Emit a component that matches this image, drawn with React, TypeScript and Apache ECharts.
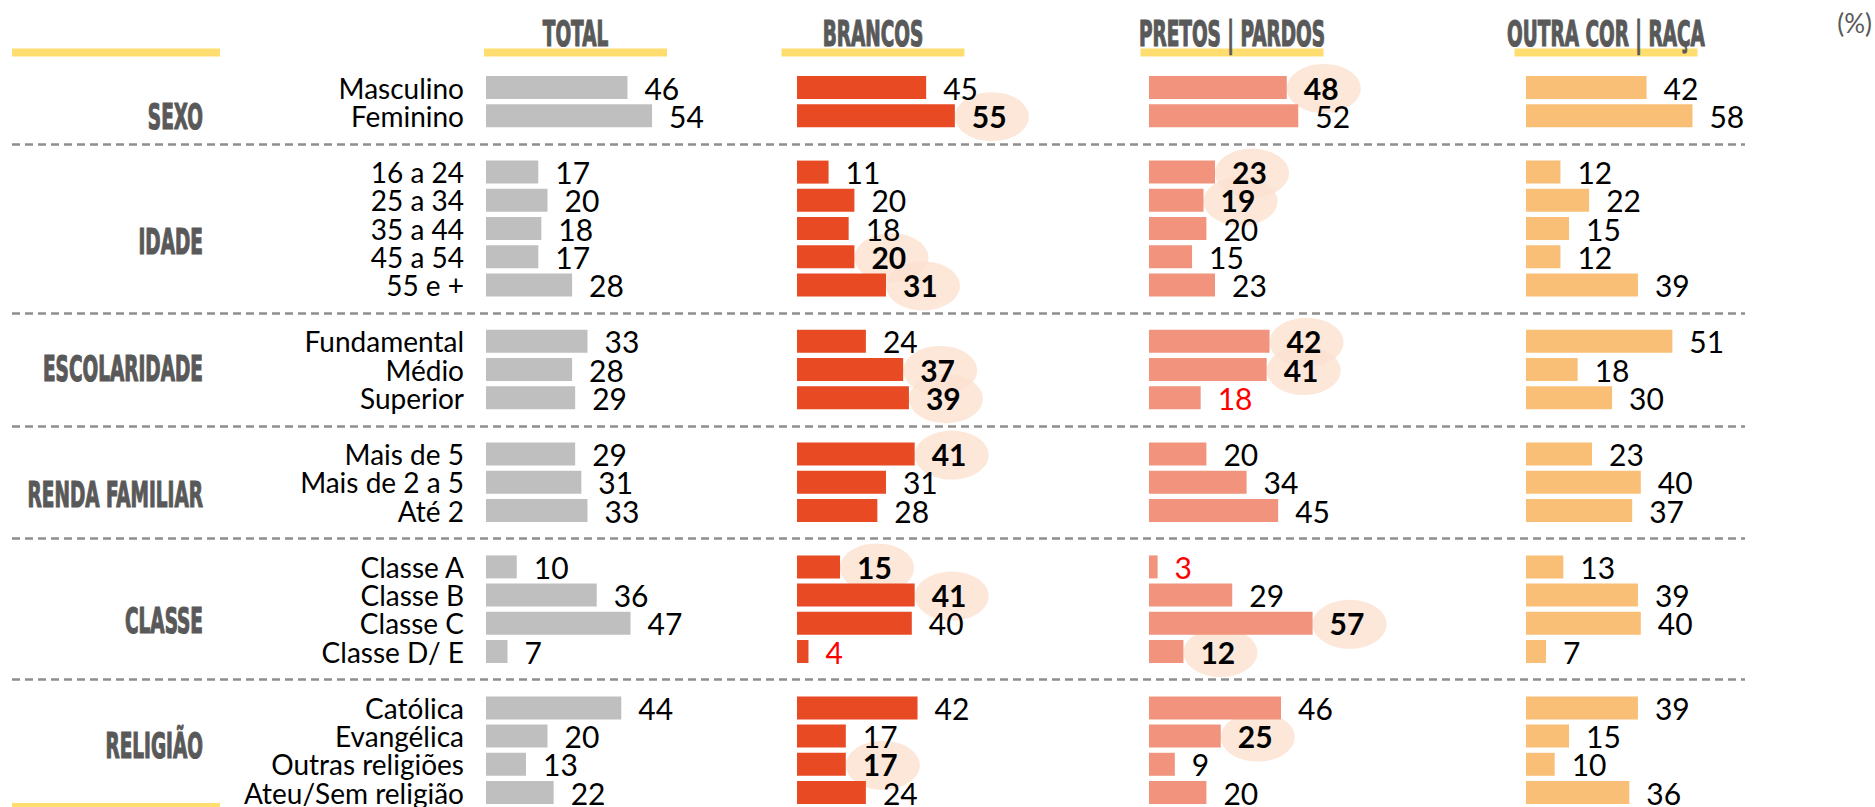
import { useEffect, useRef } from 'react';
import * as echarts from 'echarts';

// ---------- DATA ----------
const groupNames = ['SEXO', 'IDADE', 'ESCOLARIDADE', 'RENDA FAMILIAR', 'CLASSE', 'RELIGIÃO'];
const groupCategories = [
  ['Masculino', 'Feminino'],
  ['16 a 24', '25 a 34', '35 a 44', '45 a 54', '55 e +'],
  ['Fundamental', 'Médio', 'Superior'],
  ['Mais de 5', 'Mais de 2 a 5', 'Até 2'],
  ['Classe A', 'Classe B', 'Classe C', 'Classe D/ E'],
  ['Católica', 'Evangélica', 'Outras religiões', 'Ateu/Sem religião'],
];
const columnTitles = ['TOTAL', 'BRANCOS', 'PRETOS | PARDOS', 'OUTRA COR | RAÇA'];
const total = [[46, 54], [17, 20, 18, 17, 28], [33, 28, 29], [29, 31, 33], [10, 36, 47, 7], [44, 20, 13, 22]];
const brancos = [[45, 55], [11, 20, 18, 20, 31], [24, 37, 39], [41, 31, 28], [15, 41, 40, 4], [42, 17, 17, 24]];
const pretos = [[48, 52], [23, 19, 20, 15, 23], [42, 41, 18], [20, 34, 45], [3, 29, 57, 12], [46, 25, 9, 20]];
const outra = [[42, 58], [12, 22, 15, 12, 39], [51, 18, 30], [23, 40, 37], [13, 39, 40, 7], [39, 15, 10, 36]];
const brancosDestaque = ['Feminino', '45 a 54', '55 e +', 'Médio', 'Superior', 'Mais de 5', 'Classe A', 'Classe B', 'Outras religiões'];
const pretosDestaque = ['Masculino', '16 a 24', '25 a 34', 'Fundamental', 'Médio', 'Classe C', 'Classe D/ E', 'Evangélica'];
const brancosVermelho = ['Classe D/ E'];
const pretosVermelho = ['Superior', 'Classe A'];
const unitLabel = '(%)';

// ---------- LAYOUT ----------
const TOP = 73.4;
const ROW_H = 28.2;
const FONT = 'Lato, "Noto Sans", sans-serif';
const HEAD_FONT = '"Liberation Sans Narrow", "DejaVu Sans Condensed", "Liberation Sans", sans-serif';
const HEAD_SIZE = 36;
const HEAD_COLOR = '#595959';
const YELLOW = '#FFDD6E';
const groupLabelRow = [1.01, 5.46, 9.95, 14.41, 18.88, 23.32];
const columnLayout = [
  { left: 486, width: 307.5, center: 575.5, color: '#BFBFBF' },
  { left: 797, width: 287, center: 873, color: '#E84A23' },
  { left: 1149, width: 287, center: 1232, color: '#F1937D' },
  { left: 1526, width: 287, center: 1606, color: '#F9BF77' },
];

// flatten with blank gap rows
const yCats: string[] = [];
const gapRows: number[] = [];
groupCategories.forEach((cats, g) => {
  if (g > 0) {
    yCats.push('');
    gapRows.push(yCats.length - 1);
  }
  cats.forEach((c) => yCats.push(c));
});
const flat = (vals: number[][]) => {
  const out: (number | null)[] = [];
  vals.forEach((v, g) => {
    if (g > 0) out.push(null);
    v.forEach((x) => out.push(x));
  });
  return out;
};

export default function App() {
  const ref = useRef<HTMLDivElement>(null);
  useEffect(() => {
    if (!ref.current) return;
    const chart = echarts.init(ref.current, undefined, { renderer: 'svg' });

    const cols = [
      { data: flat(total), bold: [] as string[], red: [] as string[] },
      { data: flat(brancos), bold: brancosDestaque, red: brancosVermelho },
      { data: flat(pretos), bold: pretosDestaque, red: pretosVermelho },
      { data: flat(outra), bold: [] as string[], red: [] as string[] },
    ];

    const grids: any[] = [];
    const xAxes: any[] = [];
    const yAxes: any[] = [];
    const series: any[] = [];
    const gridH = ROW_H * yCats.length;

    cols.forEach((col, i) => {
      const L = columnLayout[i];
      grids.push({ left: L.left, top: TOP, width: L.width, height: gridH });
      xAxes.push({ type: 'value', gridIndex: i, min: 0, max: 100, show: false });
      yAxes.push({
        type: 'category',
        gridIndex: i,
        inverse: true,
        data: yCats,
        axisLine: { show: false },
        axisTick: { show: false },
        splitLine: { show: false },
        axisLabel: {
          show: i === 0,
          interval: 0,
          margin: 22,
          fontSize: 28,
          color: '#000',
          fontFamily: FONT,
        },
      });
      series.push({
        type: 'bar',
        xAxisIndex: i,
        yAxisIndex: i,
        barWidth: 23,
        z: 3,
        itemStyle: { color: L.color },
        label: {
          show: true,
          position: 'right',
          distance: 17,
          fontSize: 30,
          color: '#000',
          fontFamily: FONT,
        },
        data: col.data.map((v, r) => {
          if (v === null) return null;
          const name = yCats[r];
          const lab: any = {};
          if (col.bold.includes(name)) lab.fontWeight = 'bold';
          if (col.red.includes(name)) lab.color = '#FF0000';
          return { value: v, label: lab };
        }),
      });
      if (col.bold.length) {
        series.push({
          type: 'scatter',
          xAxisIndex: i,
          yAxisIndex: i,
          z: 1,
          silent: true,
          symbol: 'circle',
          symbolSize: [74, 49],
          symbolOffset: [37, 1],
          itemStyle: { color: '#FBE1CF' },
          data: col.data
            .map((v, r) => (v !== null && col.bold.includes(yCats[r]) ? [v, r] : null))
            .filter((d) => d !== null),
        });
      }
    });

    // background grid for separators
    grids.push({ left: 12, width: 1733, top: TOP, height: gridH });
    xAxes.push({ type: 'value', gridIndex: 4, min: 0, max: 1, show: false });
    yAxes.push({ type: 'value', gridIndex: 4, inverse: true, min: -0.5, max: yCats.length - 0.5, show: false });
    series.push({
      type: 'line',
      xAxisIndex: 4,
      yAxisIndex: 4,
      data: [],
      silent: true,
      markLine: {
        silent: true,
        symbol: ['none', 'none'],
        label: { show: false },
        lineStyle: { color: '#8F8F8F', width: 2.5, type: [8, 5] },
        data: gapRows.map((r) => ({ yAxis: r })),
      },
    });

    // measure heading font for condensed look
    const canvas = document.createElement('canvas');
    const ctx = canvas.getContext('2d')!;
    ctx.font = `bold ${HEAD_SIZE}px ${HEAD_FONT}`;
    const sx = 160 / ctx.measureText('ESCOLARIDADE').width;

    const rowY = (r: number) => TOP + (r + 0.5) * ROW_H;
    const headStyle = {
      fill: HEAD_COLOR,
      stroke: HEAD_COLOR,
      lineWidth: 1.2,
      fontSize: HEAD_SIZE,
      fontWeight: 'bold',
      fontFamily: HEAD_FONT,
      verticalAlign: 'middle',
    };
    const graphic: any[] = [];
    graphic.push({ type: 'rect', shape: { x: 12, y: 48.5, width: 208, height: 8 }, style: { fill: YELLOW } });
    graphic.push({ type: 'rect', shape: { x: 12, y: 803, width: 208, height: 8 }, style: { fill: YELLOW } });
    columnTitles.forEach((t, i) => {
      const c = columnLayout[i].center;
      graphic.push({ type: 'rect', shape: { x: c - 91.5, y: 48.5, width: 183, height: 8 }, style: { fill: YELLOW } });
      graphic.push({
        type: 'text',
        x: c,
        y: 34,
        scaleX: sx,
        style: { ...headStyle, text: t, align: 'center' },
      });
    });
    groupNames.forEach((g, i) => {
      graphic.push({
        type: 'text',
        x: 203,
        y: rowY(groupLabelRow[i]) + 0.5,
        scaleX: sx,
        style: { ...headStyle, text: g, align: 'right' },
      });
    });
    graphic.push({
      type: 'text',
      x: 1872,
      y: 23,
      style: { text: unitLabel, fill: HEAD_COLOR, fontSize: 26, fontFamily: FONT, align: 'right', verticalAlign: 'middle' },
    });

    chart.setOption({
      animation: false,
      backgroundColor: '#fff',
      textStyle: { fontFamily: FONT },
      grid: grids,
      xAxis: xAxes,
      yAxis: yAxes,
      series,
      graphic,
    });
    return () => chart.dispose();
  }, []);
  return <div ref={ref} style={{ position: 'absolute', left: 0, top: 0, width: 1875, height: 807 }} />;
}
